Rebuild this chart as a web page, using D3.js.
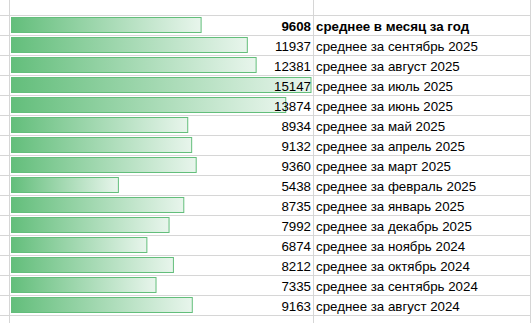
<!DOCTYPE html>
<html>
<head>
<meta charset="utf-8">
<script src="https://cdn.jsdelivr.net/npm/d3@7/dist/d3.min.js"></script>
<style>
  html, body { margin: 0; padding: 0; background: #fff; }
  svg { display: block; }
</style>
</head>
<body>
<script>
// Monthly averages with Excel-style gradient data bars
const labels = [
  "среднее в месяц за год",
  "среднее за сентябрь 2025",
  "среднее за август 2025",
  "среднее за июль 2025",
  "среднее за июнь 2025",
  "среднее за май 2025",
  "среднее за апрель 2025",
  "среднее за март 2025",
  "среднее за февраль 2025",
  "среднее за январь 2025",
  "среднее за декабрь 2025",
  "среднее за ноябрь 2024",
  "среднее за октябрь 2024",
  "среднее за сентябрь 2024",
  "среднее за август 2024"
];
const values = [9608, 11937, 12381, 15147, 13874, 8934, 9132, 9360, 5438, 8735, 7992, 6874, 8212, 7335, 9163];
const boldRows = [0];

const W = 531, H = 323;
const rowH = 20, gridTop = 15;
const colA = 9.5, colB = 313.5, colC = 530.5;

const rows = labels.map((l, i) => ({ label: l, value: values[i], bold: boldRows.includes(i) }));

const svg = d3.select("body").append("svg").attr("width", W).attr("height", H);

const defs = svg.append("defs");
const grad = defs.append("linearGradient").attr("id", "barGrad")
  .attr("x1", "0%").attr("x2", "100%").attr("y1", "0%").attr("y2", "0%");
grad.append("stop").attr("offset", "0%").attr("stop-color", "#63be7b");
grad.append("stop").attr("offset", "100%").attr("stop-color", "#e8f5ec");

const y = d3.scaleBand().domain(d3.range(rows.length)).range([gridTop, gridTop + rowH * rows.length]);
const x = d3.scaleLinear().domain([0, d3.max(values)]).range([11, 311.5]);

// grid lines
const grid = svg.append("g").attr("stroke", "#d6d6d6").attr("stroke-width", 1);
const hLines = d3.range(rows.length + 1).map(i => gridTop + i * rowH + 0.5);
grid.selectAll("line.h").data(hLines).join("line").attr("class", "h")
  .attr("x1", 0).attr("x2", W).attr("y1", d => d).attr("y2", d => d);
grid.selectAll("line.v").data([colA, colB, colC]).join("line").attr("class", "v")
  .attr("x1", d => d).attr("x2", d => d).attr("y1", 0).attr("y2", H);

// data bars
svg.append("g").selectAll("rect").data(rows).join("rect")
  .attr("x", x(0) + 0.5)
  .attr("y", (d, i) => y(i) + 2.5)
  .attr("width", d => x(d.value) - x(0) - 1)
  .attr("height", 15)
  .attr("fill", "url(#barGrad)")
  .attr("stroke", "#63be7b")
  .attr("stroke-width", 1);

const font = "'Liberation Sans', Arial, sans-serif";

// values, right aligned in the bar column
svg.append("g").selectAll("text").data(rows).join("text")
  .attr("x", 311)
  .attr("y", (d, i) => y(i) + 16)
  .attr("text-anchor", "end")
  .attr("font-family", font)
  .attr("font-size", 13.3)
  .attr("font-weight", d => d.bold ? "bold" : "normal")
  .attr("fill", "#000")
  .text(d => d.value);

// row labels
svg.append("g").selectAll("text").data(rows).join("text")
  .attr("x", 316)
  .attr("y", (d, i) => y(i) + 16)
  .attr("font-family", font)
  .attr("font-size", 13.3)
  .attr("font-weight", d => d.bold ? "bold" : "normal")
  .attr("fill", "#000")
  .text(d => d.label);
</script>
</body>
</html>
